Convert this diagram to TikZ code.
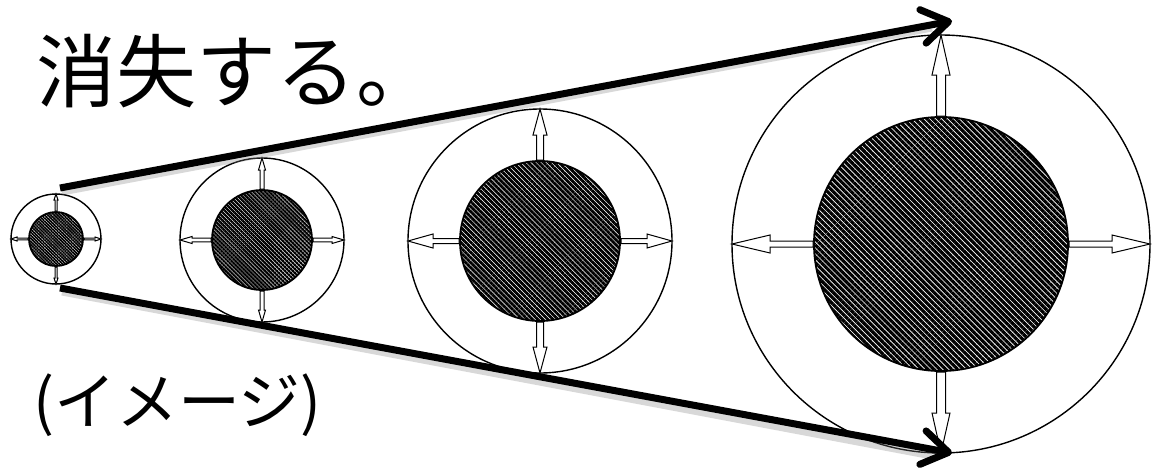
\documentclass[tikz,border=0pt]{standalone}
\usepackage{fontspec}
\newfontfamily\cjk{Noto Sans CJK JP}
\usetikzlibrary{arrows.meta,patterns.meta}
\tikzset{
  outerc/.style={circle, draw=black, line width=1.4pt, inner sep=0pt, minimum size=#1},
  innerc/.style={circle, draw=black, line width=1.8pt, inner sep=0pt, minimum size=#1},
  bigarrow/.style={line width=7pt, -{Straight Barb[length=26pt,width=34pt,line cap=round,line join=round]}},
  shadowarrow/.style={line width=7pt, draw=gray, opacity=0.3},
  txt/.style={inner sep=0pt, font=\cjk},
}
% radial open arrow: cx, cy, angle, r_in, r_out, half shaft width, head length, half head width
\newcommand\radarr[8]{%
  \begin{scope}[shift={(#1,#2)}, rotate=#3]
    \filldraw[fill=white, draw=black, line width=1pt, line join=miter]
      (#4,-#6) -- ({#5-#7},-#6) -- ({#5-#7},-#8) -- (#5,0) -- ({#5-#7},#8) -- ({#5-#7},#6) -- (#4,#6) -- cycle;
  \end{scope}}
% cx, cy, r_in, r_out, vertical: shaft, head len, head half ; horizontal: shaft, head len
\newcommand\fourarr[9]{%
  \radarr{#1}{#2}{90}{#3}{#4}{#5}{#6}{#7}%
  \radarr{#1}{#2}{270}{#3}{#4}{#5}{#6}{#7}%
  \radarr{#1}{#2}{0}{#3}{#4}{#8}{#9}{#7}%
  \radarr{#1}{#2}{180}{#3}{#4}{#8}{#9}{#7}}
\begin{document}
\begin{tikzpicture}[x=1pt,y=-1pt]
\useasboundingbox (0,0) rectangle (1152,469);
\fill[white] (0,0) rectangle (1152,469);

% circles (outer rings)
\node[outerc=90pt]  (o1) at (56,239) {};
\node[outerc=164pt] (o2) at (262,240) {};
\node[outerc=264pt] (o3) at (540,241) {};
\node[outerc=418pt] (o4) at (941,244) {};

% hatched cores
\node[innerc=54pt,  pattern={Lines[angle=-45,distance=2.2pt,line width=1.75pt]}] (i1) at (56,239) {};
\node[innerc=100pt, pattern={Lines[angle=-45,distance=2.8pt,line width=2.2pt]}] (i2) at (262,240) {};
\node[innerc=160pt, pattern={Lines[angle=-45,distance=3.6pt,line width=2.8pt]}] (i3) at (540,241) {};
\node[innerc=254pt, pattern={Lines[angle=-45,distance=4.2pt,line width=3.2pt]}] (i4) at (941,244) {};

% radial expansion arrows
\fourarr{56}{239}{28}{45}{1}{6}{2}{0.8}{6}
\fourarr{262}{240}{51}{82}{2}{12}{3.5}{1.8}{12}
\fourarr{540}{241}{81}{132}{3.5}{26}{7}{2.5}{25}
\fourarr{941}{244}{128}{209}{4.5}{40}{9}{3}{38}

% big spreading arrows
\coordinate (s1) at (60,188);
\coordinate (e1) at (952,21);
\coordinate (s2) at (60,288);
\coordinate (e2) at (952,453);
\draw[shadowarrow] ([shift={(2,4)}]s1) -- ([shift={(-20,7)}]e1);
\draw[shadowarrow] ([shift={(2,4)}]s2) -- ([shift={(-20,3)}]e2);
\draw[bigarrow] (s1) -- (e1);
\draw[bigarrow] (s2) -- (e2);

% texts
\node[txt, anchor=base west, font=\cjk\fontsize{80pt}{88pt}\selectfont] (t1) at (36,101) {消失する。};
\node[txt, anchor=base west, font=\cjk\fontsize{62pt}{70pt}\selectfont] (t2) at (33,424) {(イメージ)};
\end{tikzpicture}
\end{document}
